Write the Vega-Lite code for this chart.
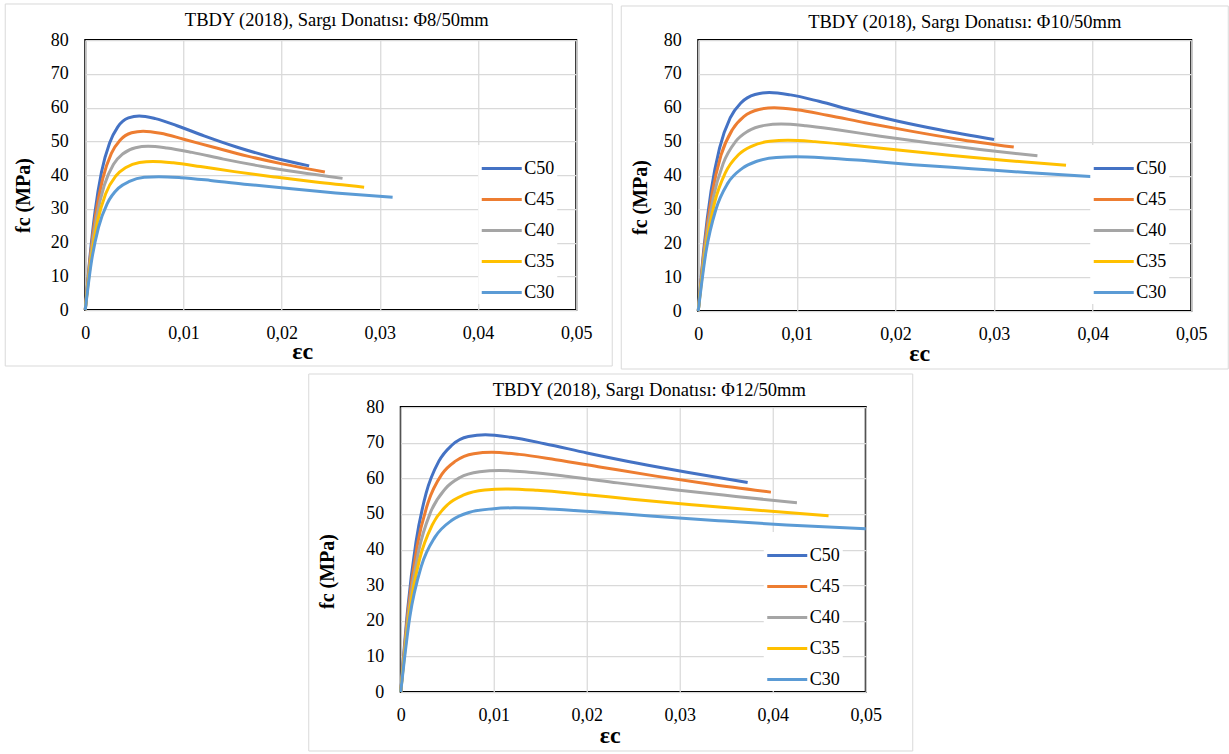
{
  "$schema": "https://vega.github.io/schema/vega-lite/v6.json",
  "background": "white",
  "padding": {"left": 3, "top": 2, "right": 0, "bottom": 0},
  "spacing": 1,
  "center": true,
  "config": {
    "font": "Liberation Serif",
    "view": {"stroke": "#000000", "strokeWidth": 2},
    "title": {"font": "Liberation Serif", "fontSize": 18.5, "fontWeight": "normal", "color": "#000000", "anchor": "middle", "frame": "group", "baseline": "alphabetic"},
    "line": {"strokeWidth": 3, "interpolate": "monotone"}
  },
  "datasets": {
    "d8": [
      {"g":"C50","e":0,"f":0},{"g":"C50","e":0.00044,"f":14.6},{"g":"C50","e":0.00099,"f":29.0},{"g":"C50","e":0.00165,"f":40.8},{"g":"C50","e":0.00248,"f":49.5},{"g":"C50","e":0.0033,"f":54.2},{"g":"C50","e":0.0044,"f":56.9},{"g":"C50","e":0.0055,"f":57.5},{"g":"C50","e":0.00715,"f":56.7},{"g":"C50","e":0.00935,"f":54.6},{"g":"C50","e":0.0121,"f":51.6},{"g":"C50","e":0.0154,"f":48.3},{"g":"C50","e":0.0187,"f":45.5},{"g":"C50","e":0.0228,"f":42.7},
      {"g":"C45","e":0,"f":0},{"g":"C45","e":0.00047,"f":14.6},{"g":"C45","e":0.00106,"f":28.2},{"g":"C45","e":0.00177,"f":38.8},{"g":"C45","e":0.00266,"f":46.4},{"g":"C45","e":0.00354,"f":50.3},{"g":"C45","e":0.00472,"f":52.5},{"g":"C45","e":0.0059,"f":53.0},{"g":"C45","e":0.00767,"f":52.4},{"g":"C45","e":0.01003,"f":50.6},{"g":"C45","e":0.01298,"f":48.3},{"g":"C45","e":0.01652,"f":45.6},{"g":"C45","e":0.02006,"f":43.3},{"g":"C45","e":0.0244,"f":40.9},
      {"g":"C40","e":0,"f":0},{"g":"C40","e":0.000512,"f":14.6},{"g":"C40","e":0.00115,"f":27.4},{"g":"C40","e":0.00192,"f":36.8},{"g":"C40","e":0.00288,"f":43.2},{"g":"C40","e":0.00384,"f":46.3},{"g":"C40","e":0.00512,"f":48.1},{"g":"C40","e":0.0064,"f":48.5},{"g":"C40","e":0.00832,"f":48.0},{"g":"C40","e":0.01088,"f":46.7},{"g":"C40","e":0.01408,"f":44.7},{"g":"C40","e":0.01792,"f":42.6},{"g":"C40","e":0.02176,"f":40.8},{"g":"C40","e":0.0262,"f":39.0},
      {"g":"C35","e":0,"f":0},{"g":"C35","e":0.000552,"f":14.3},{"g":"C35","e":0.00124,"f":26.1},{"g":"C35","e":0.00207,"f":34.4},{"g":"C35","e":0.00311,"f":39.7},{"g":"C35","e":0.00414,"f":42.2},{"g":"C35","e":0.00552,"f":43.7},{"g":"C35","e":0.0069,"f":44.0},{"g":"C35","e":0.00897,"f":43.6},{"g":"C35","e":0.01173,"f":42.5},{"g":"C35","e":0.01518,"f":41.0},{"g":"C35","e":0.01932,"f":39.4},{"g":"C35","e":0.02346,"f":37.9},{"g":"C35","e":0.0284,"f":36.4},
      {"g":"C30","e":0,"f":0},{"g":"C30","e":0.0006,"f":13.8},{"g":"C30","e":0.00135,"f":24.5},{"g":"C30","e":0.00225,"f":31.6},{"g":"C30","e":0.00338,"f":36.1},{"g":"C30","e":0.0045,"f":38.1},{"g":"C30","e":0.006,"f":39.3},{"g":"C30","e":0.0075,"f":39.5},{"g":"C30","e":0.00975,"f":39.2},{"g":"C30","e":0.01275,"f":38.4},{"g":"C30","e":0.0165,"f":37.2},{"g":"C30","e":0.021,"f":35.9},{"g":"C30","e":0.0255,"f":34.7},{"g":"C30","e":0.0313,"f":33.4}
    ],
    "d10": [
      {"g":"C50","e":0,"f":0},{"g":"C50","e":0.000576,"f":18.6},{"g":"C50","e":0.0013,"f":35.4},{"g":"C50","e":0.00216,"f":48.1},{"g":"C50","e":0.00324,"f":57.0},{"g":"C50","e":0.00432,"f":61.4},{"g":"C50","e":0.00576,"f":63.9},{"g":"C50","e":0.0072,"f":64.5},{"g":"C50","e":0.00936,"f":63.8},{"g":"C50","e":0.01224,"f":61.9},{"g":"C50","e":0.01584,"f":59.1},{"g":"C50","e":0.02016,"f":56.1},{"g":"C50","e":0.02448,"f":53.5},{"g":"C50","e":0.030,"f":50.6},
      {"g":"C45","e":0,"f":0},{"g":"C45","e":0.000616,"f":18.5},{"g":"C45","e":0.00139,"f":34.4},{"g":"C45","e":0.00231,"f":46.0},{"g":"C45","e":0.00347,"f":53.6},{"g":"C45","e":0.00462,"f":57.4},{"g":"C45","e":0.00616,"f":59.5},{"g":"C45","e":0.0077,"f":60.0},{"g":"C45","e":0.01001,"f":59.4},{"g":"C45","e":0.01309,"f":57.8},{"g":"C45","e":0.01694,"f":55.6},{"g":"C45","e":0.02156,"f":53.1},{"g":"C45","e":0.02618,"f":50.8},{"g":"C45","e":0.032,"f":48.4},
      {"g":"C40","e":0,"f":0},{"g":"C40","e":0.000672,"f":18.4},{"g":"C40","e":0.00151,"f":33.3},{"g":"C40","e":0.00252,"f":43.5},{"g":"C40","e":0.00378,"f":50.0},{"g":"C40","e":0.00504,"f":53.1},{"g":"C40","e":0.00672,"f":54.8},{"g":"C40","e":0.0084,"f":55.2},{"g":"C40","e":0.01092,"f":54.7},{"g":"C40","e":0.01428,"f":53.4},{"g":"C40","e":0.01848,"f":51.6},{"g":"C40","e":0.02352,"f":49.6},{"g":"C40","e":0.02856,"f":47.7},{"g":"C40","e":0.0344,"f":45.8},
      {"g":"C35","e":0,"f":0},{"g":"C35","e":0.000728,"f":18.1},{"g":"C35","e":0.00164,"f":31.8},{"g":"C35","e":0.00273,"f":40.7},{"g":"C35","e":0.0041,"f":46.2},{"g":"C35","e":0.00546,"f":48.7},{"g":"C35","e":0.00728,"f":50.1},{"g":"C35","e":0.0091,"f":50.4},{"g":"C35","e":0.01183,"f":50.0},{"g":"C35","e":0.01547,"f":49.0},{"g":"C35","e":0.02002,"f":47.6},{"g":"C35","e":0.02548,"f":46.0},{"g":"C35","e":0.03094,"f":44.5},{"g":"C35","e":0.0373,"f":43.0},
      {"g":"C30","e":0,"f":0},{"g":"C30","e":0.000792,"f":17.6},{"g":"C30","e":0.00178,"f":29.9},{"g":"C30","e":0.00297,"f":37.6},{"g":"C30","e":0.00446,"f":42.1},{"g":"C30","e":0.00594,"f":44.2},{"g":"C30","e":0.00792,"f":45.3},{"g":"C30","e":0.0099,"f":45.5},{"g":"C30","e":0.01287,"f":45.2},{"g":"C30","e":0.01683,"f":44.4},{"g":"C30","e":0.02178,"f":43.2},{"g":"C30","e":0.02772,"f":42.0},{"g":"C30","e":0.03366,"f":40.8},{"g":"C30","e":0.041,"f":39.5}
    ],
    "d12": [
      {"g":"C50","e":0,"f":0},{"g":"C50","e":0.000728,"f":22.8},{"g":"C50","e":0.00164,"f":42.1},{"g":"C50","e":0.00273,"f":55.8},{"g":"C50","e":0.0041,"f":64.8},{"g":"C50","e":0.00546,"f":69.2},{"g":"C50","e":0.00728,"f":71.7},{"g":"C50","e":0.0091,"f":72.2},{"g":"C50","e":0.01183,"f":71.5},{"g":"C50","e":0.01547,"f":69.7},{"g":"C50","e":0.02002,"f":67.1},{"g":"C50","e":0.02548,"f":64.2},{"g":"C50","e":0.03094,"f":61.6},{"g":"C50","e":0.0373,"f":58.8},
      {"g":"C45","e":0,"f":0},{"g":"C45","e":0.000784,"f":22.7},{"g":"C45","e":0.00176,"f":40.9},{"g":"C45","e":0.00294,"f":53.2},{"g":"C45","e":0.00441,"f":61.1},{"g":"C45","e":0.00588,"f":64.8},{"g":"C45","e":0.00784,"f":66.9},{"g":"C45","e":0.0098,"f":67.3},{"g":"C45","e":0.01274,"f":66.7},{"g":"C45","e":0.01666,"f":65.2},{"g":"C45","e":0.02156,"f":63.1},{"g":"C45","e":0.02744,"f":60.6},{"g":"C45","e":0.03332,"f":58.3},{"g":"C45","e":0.0398,"f":56.1},
      {"g":"C40","e":0,"f":0},{"g":"C40","e":0.000848,"f":22.5},{"g":"C40","e":0.00191,"f":39.4},{"g":"C40","e":0.00318,"f":50.3},{"g":"C40","e":0.00477,"f":57.0},{"g":"C40","e":0.00636,"f":60.2},{"g":"C40","e":0.00848,"f":61.8},{"g":"C40","e":0.0106,"f":62.2},{"g":"C40","e":0.01378,"f":61.7},{"g":"C40","e":0.01802,"f":60.5},{"g":"C40","e":0.02332,"f":58.7},{"g":"C40","e":0.02968,"f":56.7},{"g":"C40","e":0.03604,"f":54.9},{"g":"C40","e":0.0426,"f":53.1},
      {"g":"C35","e":0,"f":0},{"g":"C35","e":0.000904,"f":21.9},{"g":"C35","e":0.00203,"f":37.3},{"g":"C35","e":0.00339,"f":46.9},{"g":"C35","e":0.00509,"f":52.7},{"g":"C35","e":0.00678,"f":55.3},{"g":"C35","e":0.00904,"f":56.7},{"g":"C35","e":0.0113,"f":57.0},{"g":"C35","e":0.01469,"f":56.6},{"g":"C35","e":0.01921,"f":55.6},{"g":"C35","e":0.02486,"f":54.1},{"g":"C35","e":0.03164,"f":52.5},{"g":"C35","e":0.03842,"f":51.0},{"g":"C35","e":0.046,"f":49.5},
      {"g":"C30","e":0,"f":0},{"g":"C30","e":0.000976,"f":21.1},{"g":"C30","e":0.0022,"f":35.2},{"g":"C30","e":0.00366,"f":43.4},{"g":"C30","e":0.00549,"f":48.2},{"g":"C30","e":0.00732,"f":50.4},{"g":"C30","e":0.00976,"f":51.4},{"g":"C30","e":0.0122,"f":51.7},{"g":"C30","e":0.01586,"f":51.4},{"g":"C30","e":0.02074,"f":50.6},{"g":"C30","e":0.02684,"f":49.4},{"g":"C30","e":0.03416,"f":48.1},{"g":"C30","e":0.04148,"f":46.9},{"g":"C30","e":0.05,"f":45.8}
    ]
  },
  "resolve": {"scale": {"color": "independent"}, "legend": {"color": "independent"}},
  "vconcat": [
    {
      "spacing": 5,
      "resolve": {"scale": {"color": "independent"}, "legend": {"color": "independent"}},
      "hconcat": [
        {
          "width": 491, "height": 270,
          "title": {"text": "TBDY (2018), Sargı Donatısı: Φ8/50mm", "dx": 6, "offset": -26},
          "resolve": {"scale": {"x": "independent", "y": "independent"}, "axis": {"x": "independent", "y": "independent"}},
          "layer": [
            {
              "data": {"name": "d8"},
              "mark": {"type": "line"},
              "encoding": {
                "x": {"field": "e", "type": "quantitative",
                  "scale": {"domain": [0, 0.05], "nice": false, "zero": false},
                  "axis": {"values": [0, 0.01, 0.02, 0.03, 0.04, 0.05],
                    "labelExpr": "datum.value == 0 ? '0' : replace(format(datum.value, '.2f'), '.', ',')",
                    "grid": true, "gridColor": "#D9D9D9", "gridWidth": 1.25, "domain": false, "ticks": false, "tickSize": 0,
                    "labelFlush": false, "labelOverlap": false, "labelBound": false,
                    "labelFont": "Liberation Serif", "labelFontSize": 18, "labelColor": "#000000", "labelPadding": 14,
                    "title": "εc", "titleFont": "Liberation Serif", "titleColor": "#000000", "titleFontSize": 24, "titleFontWeight": "bold",
                    "titleX": 217, "titleY": 48, "titleBaseline": "alphabetic"}},
                "y": {"field": "f", "type": "quantitative",
                  "scale": {"domain": [0, 80], "nice": false, "zero": false},
                  "axis": {"values": [0, 10, 20, 30, 40, 50, 60, 70, 80],
                    "grid": true, "gridColor": "#D9D9D9", "gridWidth": 1.25, "domain": false, "ticks": false, "tickSize": 0,
                    "labelFlush": false, "labelOverlap": false, "labelBound": false,
                    "labelFont": "Liberation Serif", "labelFontSize": 18, "labelColor": "#000000", "labelPadding": 17,
                    "title": "fc (MPa)", "titleFont": "Liberation Serif", "titleColor": "#000000", "titleFontSize": 20, "titleFontWeight": "bold",
                    "titleX": -56, "titleY": 155, "titleBaseline": "alphabetic"}},
                "color": {"field": "g", "type": "nominal",
                  "scale": {"domain": ["C50", "C45", "C40", "C35", "C30"], "range": ["#4472C4", "#ED7D31", "#A5A5A5", "#FFC000", "#5B9BD5"]},
                  "legend": {"title": null, "orient": "none", "legendX": 393, "legendY": 105, "padding": 2, "fillColor": "white",
                    "symbolType": "stroke", "symbolStrokeWidth": 3, "symbolSize": 1600, "rowPadding": -18,
                    "labelFont": "Liberation Serif", "labelFontSize": 18, "labelColor": "#000000", "labelOffset": 1}}
              }
            },
            {
              "data": {"values": [{}]},
              "mark": {"type": "rect", "filled": false, "stroke": "#D9D9D9", "strokeWidth": 1},
              "encoding": {
                "x": {"datum": -0.008147, "type": "quantitative", "scale": {"domain": [0, 0.05], "nice": false, "zero": false}, "axis": null},
                "x2": {"datum": 0.053666},
                "y": {"datum": 90.667, "type": "quantitative", "scale": {"domain": [0, 80], "nice": false, "zero": false}, "axis": null},
                "y2": {"datum": -16.593}
              }
            }
          ]
        },
        {
          "width": 493, "height": 271,
          "title": {"text": "TBDY (2018), Sargı Donatısı: Φ10/50mm", "dx": 20, "offset": -26},
          "resolve": {"scale": {"x": "independent", "y": "independent"}, "axis": {"x": "independent", "y": "independent"}},
          "layer": [
            {
              "data": {"name": "d10"},
              "mark": {"type": "line"},
              "encoding": {
                "x": {"field": "e", "type": "quantitative",
                  "scale": {"domain": [0, 0.05], "nice": false, "zero": false},
                  "axis": {"values": [0, 0.01, 0.02, 0.03, 0.04, 0.05],
                    "labelExpr": "datum.value == 0 ? '0' : replace(format(datum.value, '.2f'), '.', ',')",
                    "grid": true, "gridColor": "#D9D9D9", "gridWidth": 1.25, "domain": false, "ticks": false, "tickSize": 0,
                    "labelFlush": false, "labelOverlap": false, "labelBound": false,
                    "labelFont": "Liberation Serif", "labelFontSize": 18, "labelColor": "#000000", "labelPadding": 14,
                    "title": "εc", "titleFont": "Liberation Serif", "titleColor": "#000000", "titleFontSize": 24, "titleFontWeight": "bold",
                    "titleX": 221, "titleY": 49, "titleBaseline": "alphabetic"}},
                "y": {"field": "f", "type": "quantitative",
                  "scale": {"domain": [0, 80], "nice": false, "zero": false},
                  "axis": {"values": [0, 10, 20, 30, 40, 50, 60, 70, 80],
                    "grid": true, "gridColor": "#D9D9D9", "gridWidth": 1.25, "domain": false, "ticks": false, "tickSize": 0,
                    "labelFlush": false, "labelOverlap": false, "labelBound": false,
                    "labelFont": "Liberation Serif", "labelFontSize": 18, "labelColor": "#000000", "labelPadding": 17,
                    "title": "fc (MPa)", "titleFont": "Liberation Serif", "titleColor": "#000000", "titleFontSize": 20, "titleFontWeight": "bold",
                    "titleX": -52, "titleY": 157, "titleBaseline": "alphabetic"}},
                "color": {"field": "g", "type": "nominal",
                  "scale": {"domain": ["C50", "C45", "C40", "C35", "C30"], "range": ["#4472C4", "#ED7D31", "#A5A5A5", "#FFC000", "#5B9BD5"]},
                  "legend": {"title": null, "orient": "none", "legendX": 392, "legendY": 105, "padding": 2, "fillColor": "white",
                    "symbolType": "stroke", "symbolStrokeWidth": 3, "symbolSize": 1600, "rowPadding": -18,
                    "labelFont": "Liberation Serif", "labelFontSize": 18, "labelColor": "#000000", "labelOffset": 1}}
              }
            },
            {
              "data": {"values": [{}]},
              "mark": {"type": "rect", "filled": false, "stroke": "#D9D9D9", "strokeWidth": 1},
              "encoding": {
                "x": {"datum": -0.007809, "type": "quantitative", "scale": {"domain": [0, 0.05], "nice": false, "zero": false}, "axis": null},
                "x2": {"datum": 0.053753},
                "y": {"datum": 90.037, "type": "quantitative", "scale": {"domain": [0, 80], "nice": false, "zero": false}, "axis": null},
                "y2": {"datum": -17.122}
              }
            }
          ]
        }
      ]
    },
    {
      "width": 465, "height": 285,
      "title": {"text": "TBDY (2018), Sargı Donatısı: Φ12/50mm", "dx": 16, "offset": -26},
      "resolve": {"scale": {"x": "independent", "y": "independent"}, "axis": {"x": "independent", "y": "independent"}},
      "layer": [
        {
          "data": {"name": "d12"},
          "mark": {"type": "line"},
          "encoding": {
            "x": {"field": "e", "type": "quantitative",
              "scale": {"domain": [0, 0.05], "nice": false, "zero": false},
              "axis": {"values": [0, 0.01, 0.02, 0.03, 0.04, 0.05],
                "labelExpr": "datum.value == 0 ? '0' : replace(format(datum.value, '.2f'), '.', ',')",
                "grid": true, "gridColor": "#D9D9D9", "gridWidth": 1.25, "domain": false, "ticks": false, "tickSize": 0,
                "labelFlush": false, "labelOverlap": false, "labelBound": false,
                "labelFont": "Liberation Serif", "labelFontSize": 18, "labelColor": "#000000", "labelPadding": 14,
                "title": "εc", "titleFont": "Liberation Serif", "titleColor": "#000000", "titleFontSize": 24, "titleFontWeight": "bold",
                "titleX": 209, "titleY": 50, "titleBaseline": "alphabetic"}},
            "y": {"field": "f", "type": "quantitative",
              "scale": {"domain": [0, 80], "nice": false, "zero": false},
              "axis": {"values": [0, 10, 20, 30, 40, 50, 60, 70, 80],
                "grid": true, "gridColor": "#D9D9D9", "gridWidth": 1.25, "domain": false, "ticks": false, "tickSize": 0,
                "labelFlush": false, "labelOverlap": false, "labelBound": false,
                "labelFont": "Liberation Serif", "labelFontSize": 18, "labelColor": "#000000", "labelPadding": 17,
                "title": "fc (MPa)", "titleFont": "Liberation Serif", "titleColor": "#000000", "titleFontSize": 20, "titleFontWeight": "bold",
                "titleX": -67, "titleY": 164, "titleBaseline": "alphabetic"}},
            "color": {"field": "g", "type": "nominal",
              "scale": {"domain": ["C50", "C45", "C40", "C35", "C30"], "range": ["#4472C4", "#ED7D31", "#A5A5A5", "#FFC000", "#5B9BD5"]},
              "legend": {"title": null, "orient": "none", "legendX": 363, "legendY": 125, "padding": 2, "fillColor": "white",
                "symbolType": "stroke", "symbolStrokeWidth": 3, "symbolSize": 1600, "rowPadding": -18,
                "labelFont": "Liberation Serif", "labelFontSize": 18, "labelColor": "#000000", "labelOffset": 1}}
          }
        },
        {
          "data": {"values": [{}]},
          "mark": {"type": "rect", "filled": false, "stroke": "#D9D9D9", "strokeWidth": 1},
          "encoding": {
            "x": {"datum": -0.009892, "type": "quantitative", "scale": {"domain": [0, 0.05], "nice": false, "zero": false}, "axis": null},
            "x2": {"datum": 0.055054},
            "y": {"datum": 89.263, "type": "quantitative", "scale": {"domain": [0, 80], "nice": false, "zero": false}, "axis": null},
            "y2": {"datum": -16.561}
          }
        }
      ]
    }
  ]
}
